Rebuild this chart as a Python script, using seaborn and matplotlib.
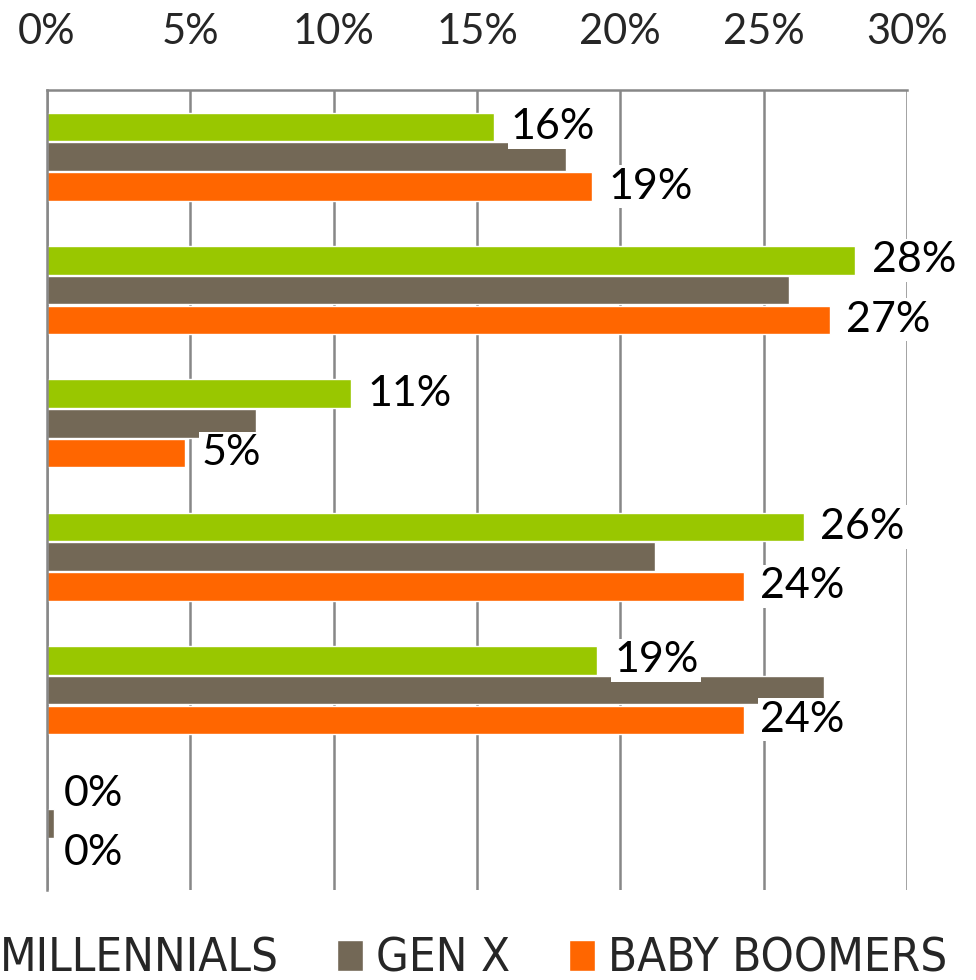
import pandas as pd
import matplotlib
matplotlib.use("Agg")
import matplotlib.pyplot as plt
import seaborn as sns

# data (percent)
categories = ["Item 1", "Item 2", "Item 3", "Item 4", "Item 5", "Item 6"]
groups = ["MILLENNIALS", "GEN X", "BABY BOOMERS"]
millennials = [15.6, 28.2, 10.6, 26.4, 19.2, 0.0]
gen_x = [18.1, 25.9, 7.3, 21.2, 27.1, 0.25]
baby_boomers = [19.0, 27.3, 4.8, 24.3, 24.3, 0.0]
xticks = [0, 5, 10, 15, 20, 25, 30]

colors = ["#99C700", "#736856", "#FF6600"]

df = pd.DataFrame({
    "category": categories * 3,
    "group": [groups[0]] * 6 + [groups[1]] * 6 + [groups[2]] * 6,
    "value": millennials + gen_x + baby_boomers,
})

sns.set_style("white")
plt.rcParams["font.family"] = ["Lato", "DejaVu Sans"]

fig = plt.figure(figsize=(9.76, 9.80), dpi=100)
ax = fig.add_axes([0.0482, 0.0918, 0.8811, 0.8163])

sns.barplot(data=df, y="category", x="value", hue="group", hue_order=groups,
            palette=colors, orient="h", width=0.67, gap=0.04, saturation=1,
            errorbar=None, ax=ax)

# value labels only for millennials and baby boomers
for idx in (0, 2):
    cont = ax.containers[idx]
    vals = [millennials, gen_x, baby_boomers][idx]
    ax.bar_label(cont, labels=[f"{round(v)}%" for v in vals], padding=12,
                 fontsize=31, color="black",
                 bbox=dict(facecolor="white", edgecolor="none", pad=2))

ax.set_xlim(0, 30)
ax.set_xticks(xticks)
ax.set_xticklabels([f"{t}%" for t in xticks], fontsize=30)
ax.xaxis.tick_top()
ax.tick_params(axis="x", length=0, pad=28)
ax.set_yticks(range(len(categories)))
ax.set_yticklabels([])
ax.tick_params(axis="y", length=0)
ax.set_xlabel("")
ax.set_ylabel("")

ax.grid(axis="x", color="#878787", linewidth=1.8)
ax.set_axisbelow(True)
for s in ["right", "bottom"]:
    ax.spines[s].set_visible(False)
for s in ["top", "left"]:
    ax.spines[s].set_color("#878787")
    ax.spines[s].set_linewidth(1.8)

handles, labels = ax.get_legend_handles_labels()
ax.get_legend().remove()
fig.legend(handles, labels, loc="center left", bbox_to_anchor=(-0.0594, 0.021),
           ncol=3, frameon=False, borderaxespad=0, handlelength=0.55,
           handleheight=0.62, handletextpad=0.28, columnspacing=1.23,
           prop={"family": "DejaVu Sans", "stretch": "condensed", "size": 34})

fig.savefig("out.png", dpi=100)
